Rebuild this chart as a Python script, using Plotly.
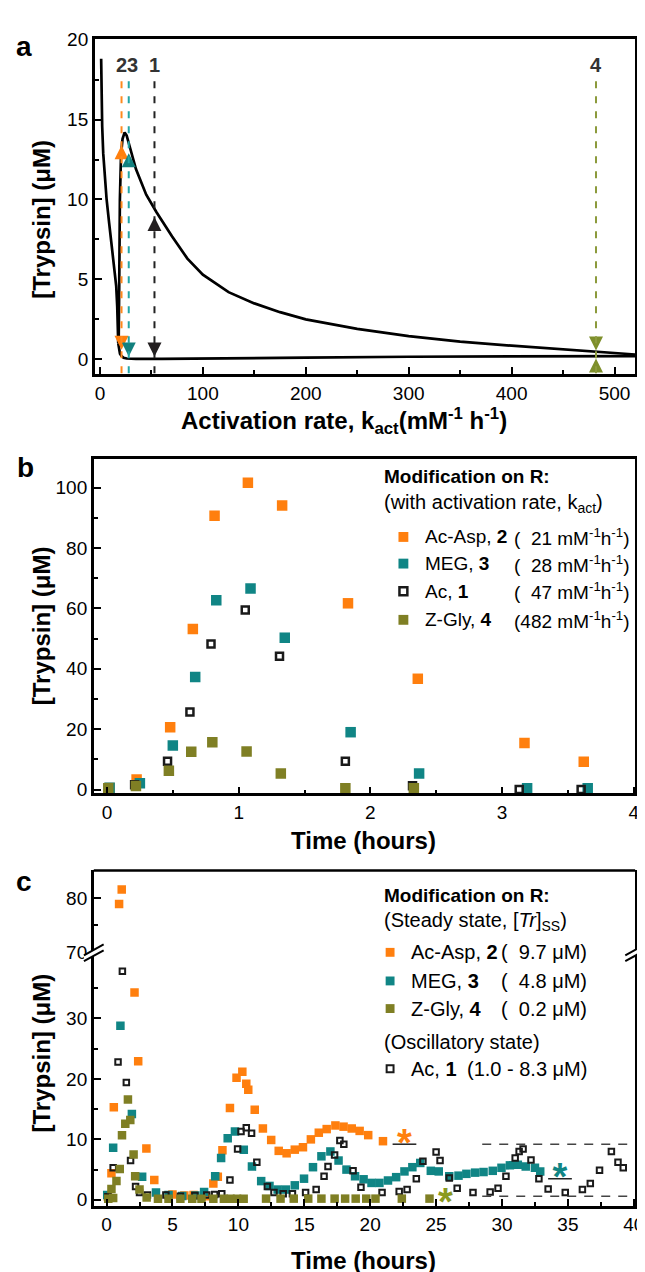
import plotly.graph_objects as go

W, H = 645, 1272
FONT = "Liberation Sans, Arial, sans-serif"

ORANGE = "#ff7f0e"
TEAL = "#108585"
OLIVE = "#7f7f24"
BLACK = "#1a1a1a"

# ---------------- panel a : bifurcation diagram ----------------
curve_k = [1.2, 1.6, 2.2, 3.2, 4.5, 6.5, 9, 11.5, 14, 15.8, 16.8, 17.4, 17.8, 18.3,
           18.8, 19.4, 20.5, 22, 24, 26, 29, 35, 45, 55, 70, 85, 100, 125, 150,
           175, 200, 250, 300, 350, 400, 450, 482, 520]
curve_tr = [18.8, 16.5, 14.6, 12.9, 11.5, 10.0, 8.5, 7.1, 5.7, 4.6, 3.3, 2.0, 1.0, 1.5,
            5.0, 10.0, 12.8, 13.8, 14.2, 14.0, 13.3, 11.9, 10.3, 9.2, 7.7, 6.3, 5.3, 4.2, 3.5,
            2.95, 2.5, 1.9, 1.45, 1.1, 0.85, 0.62, 0.45, 0.3]
base_k = [17.8, 18.5, 19.5, 21, 23, 26, 35, 60, 100, 150, 200, 300, 400, 482, 520]
base_tr = [1.0, 0.6, 0.35, 0.2, 0.1, 0.05, 0.03, 0.03, 0.04, 0.07, 0.1, 0.16, 0.18, 0.19, 0.2]

mark_k = [21, 28, 53, 482]
mark_lbl = ["2", "3", "1", "4"]
mark_shift = [0, 4, 0, 0]
dash_col = ["#ff8a1f", "#22a5a5", "#222222", "#8c9a3c"]
arrow_col = ["#ff7f0e", "#12807e", "#231f20", "#7e8f2b"]
arrow_hi = [13.4, 12.9, 8.9, 0.55]
arrow_lo = [0.6, 0.18, 0.18, 0.05]
arrow_hi_sym = ["arrow-up", "arrow-up", "arrow-up", "arrow-down"]
arrow_lo_sym = ["arrow-down", "arrow-down", "arrow-down", "arrow-up"]
dash_top = 17.4

# ---------------- panel b : batch experiments ----------------
b_org_t = [0.02, 0.225, 0.48, 0.652, 0.817, 1.07, 1.33, 1.83, 2.36, 3.17, 3.62]
b_org_v = [0.5, 3.3, 20.6, 53.2, 90.7, 101.6, 94.1, 61.7, 36.7, 15.4, 9.2]
b_teal_t = [0.02, 0.25, 0.5, 0.67, 0.83, 1.09, 1.35, 1.85, 2.37, 3.19, 3.65]
b_teal_v = [0.6, 2.1, 14.6, 37.3, 62.7, 66.6, 50.3, 19.0, 5.3, 0.4, 0.4]
b_blk_t = [0.21, 0.46, 0.63, 0.79, 1.05, 1.31, 1.81, 2.32, 3.13, 3.6]
b_blk_v = [1.6, 9.4, 25.7, 48.2, 59.5, 44.2, 9.4, 1.3, 0.0, 0.0]
b_olv_t = [0.01, 0.22, 0.47, 0.64, 0.8, 1.06, 1.32, 1.81, 2.33]
b_olv_v = [0.4, 1.2, 6.2, 12.5, 15.7, 12.6, 5.3, 0.4, 0.4]

b_leg_lbl = ["Ac-Asp, <b>2</b>", "MEG, <b>3</b>", "Ac, <b>1</b>", "Z-Gly, <b>4</b>"]
b_leg_val = ["\u00a0\u00a021", "\u00a0\u00a028", "\u00a0\u00a047", "482"]

# ---------------- panel c : flow experiments ----------------
c_org_t = [0.1, 0.37, 0.55, 0.95, 1.15, 2.12, 2.4, 3.02, 3.62, 5.0, 5.9, 6.6, 7.5, 8.1,
           8.44, 8.79, 9.36, 9.86, 10.3, 10.6, 10.75, 11.24, 11.86, 12.49, 13.06, 13.66,
           14.28, 14.9, 15.5, 16.1, 16.7, 17.36, 17.98, 18.6, 19.2, 19.85, 20.97]
c_org_v = [0.5, 4.4, 15.3, 78.9, 81.6, 34.3, 22.9, 8.5, 3.3, 0.9, 0.7, 0.8, 0.6, 2.7,
           3.8, 8.2, 15.2, 20.2, 21.2, 19.2, 18.2, 14.9, 11.8, 9.9, 8.1, 7.7,
           8.3, 8.7, 10.0, 11.1, 11.7, 12.3, 12.1, 11.8, 11.4, 10.7, 9.7]
c_teal_t = [0.05, 0.5, 1.05, 1.92, 2.7, 3.75, 4.7, 5.74, 6.74, 7.4, 8.24, 8.69, 9.19, 9.74,
            10.41, 11.03, 11.73, 12.36, 12.98, 13.6, 14.28, 14.98, 15.66, 16.3, 16.98,
            17.6, 18.2, 18.85, 19.5, 20.1, 20.7, 21.35, 21.97, 22.6, 23.2, 23.8, 24.6,
            25.2, 26.0, 26.7, 27.3, 27.96, 28.6, 29.3, 29.96, 30.6, 31.2, 31.8, 32.5, 32.9]
c_teal_v = [0.8, 8.6, 28.8, 14.2, 3.8, 1.2, 0.8, 0.65, 0.7, 1.3, 3.9, 6.9, 10.2, 11.3,
            8.3, 5.5, 3.1, 2.3, 1.7, 1.7, 2.4, 3.5, 5.4, 7.2, 8.0,
            6.5, 5.0, 3.9, 3.4, 2.8, 2.8, 3.2, 3.75, 4.7, 5.4, 6.1, 4.8,
            4.7, 3.9, 4.0, 4.3, 4.5, 4.6, 4.8, 5.3, 5.7, 5.8, 5.5, 5.3, 4.7]
c_blk_t = [0.1, 0.5, 0.87, 1.2, 1.5, 1.82, 2.2, 2.5, 3.1, 4.5, 5.6, 6.7, 7.6, 8.2, 8.74,
           9.36, 9.94, 10.2, 10.6, 11.0, 11.4, 12.2, 12.7, 13.4, 14.1, 15.1, 15.9, 16.5,
           16.8, 17.3, 17.7, 18.0, 18.7, 19.3, 20.9, 22.2, 22.8, 23.5, 24.0, 25.0, 25.3,
           26.0, 26.6, 27.8, 29.1, 29.7, 30.3, 31.0, 31.3, 31.6, 32.2, 32.8, 33.5, 34.8,
           36.1, 36.7, 37.4, 38.3, 38.8, 39.2]
c_blk_v = [0.5, 5.3, 22.8, 37.8, 19.4, 6.5, 2.2, 1.2, 0.8, 0.8, 0.6, 0.7, 0.8, 0.9, 1.0,
           3.3, 8.4, 11.3, 11.9, 11.0, 6.2, 2.2, 1.2, 1.0, 1.0, 1.2, 1.7, 3.9,
           5.5, 7.4, 9.8, 9.2, 4.8, 2.1, 1.2, 1.4, 1.7, 3.5, 6.4, 7.9, 6.5,
           3.6, 1.9, 1.2, 1.3, 1.9, 3.9, 6.9, 8.0, 8.4, 6.6, 3.5, 1.8, 1.2,
           1.7, 2.7, 4.9, 8.0, 6.2, 5.3]
c_olv_t = [0.13, 0.37, 0.5, 0.75, 1.0, 1.17, 1.42, 1.62, 1.8, 2.05, 2.17, 2.5, 3.04,
           3.9, 4.7, 5.6, 6.5, 7.2, 8.1, 8.9, 9.4, 9.9, 10.4, 12.1, 13.2, 14.2, 15.3,
           16.3, 17.3, 18.1, 18.9, 19.7, 20.4, 22.4, 24.5]
c_olv_v = [0.2, 1.8, 0.3, 3.1, 5.1, 10.7, 12.6, 16.6, 13.2, 7.5, 3.9, 1.7, 0.4,
           0.2, 0.2, 0.2, 0.2, 0.2, 0.2, 0.2, 0.2, 0.2, 0.2, 0.2, 0.2, 0.2, 0.2,
           0.2, 0.2, 0.2, 0.2, 0.2, 0.2, 0.2, 0.2]

# steady state asterisks (time, level of underline, level of asterisk text)
ss_t = [22.6, 34.4, 25.7]
ss_line = [9.2, 3.5, None]
ss_ast = [8.9, 3.2, -0.9]
ss_col = [ORANGE, TEAL, "#8a9a1e"]
osc_bounds = [9.2, 0.6]
osc_start = 28.5

c_leg_lbl = ["Ac-Asp, <b>2</b>", "MEG, <b>3</b>", "Z-Gly, <b>4</b>"]
c_leg_val = ["(\u00a0\u00a09.7 \u03bcM)", "(\u00a0\u00a04.8 \u03bcM)", "(\u00a0\u00a00.2 \u03bcM)"]

BREAK_LO = 40.6   # top of lower y segment
BREAK_HI = 69.6   # bottom of upper y segment


def xp(px):
    return px / W


def yp(py):
    return 1 - py / H


fig = go.Figure()

# --- panel a
fig.add_trace(go.Scatter(x=curve_k, y=curve_tr, mode="lines", line=dict(color="black", width=2.7),
                         xaxis="x", yaxis="y", showlegend=False))
fig.add_trace(go.Scatter(x=base_k, y=base_tr, mode="lines", line=dict(color="black", width=2.7),
                         xaxis="x", yaxis="y", showlegend=False))
for k, c in zip(mark_k, dash_col):
    fig.add_shape(type="line", xref="x", yref="y", x0=k, x1=k, y0=dash_top, y1=-0.93,
                  line=dict(color=c, width=2, dash="7px,8px"))
for i, k in enumerate(mark_k):
    fig.add_trace(go.Scatter(x=[k, k], y=[arrow_hi[i], arrow_lo[i]], mode="markers",
                             marker=dict(symbol=[arrow_hi_sym[i], arrow_lo_sym[i]], size=14,
                                         color=arrow_col[i], line=dict(width=0)),
                             xaxis="x", yaxis="y", showlegend=False))
    fig.add_annotation(x=k, y=18.4, xref="x", yref="y", text="<b>%s</b>" % mark_lbl[i],
                       showarrow=False, xshift=mark_shift[i],
                       font=dict(family=FONT, size=20, color="#333333"))

# --- panel b
sq = dict(symbol="square", size=10.5, line=dict(width=0))
for t, v, col in [(b_org_t, b_org_v, ORANGE), (b_teal_t, b_teal_v, TEAL)]:
    fig.add_trace(go.Scatter(x=t, y=v, mode="markers", marker=dict(color=col, **sq),
                             xaxis="x2", yaxis="y2", showlegend=False))
fig.add_trace(go.Scatter(x=b_blk_t, y=b_blk_v, mode="markers",
                         marker=dict(symbol="square-open", size=7, color=BLACK, line=dict(width=2.5, color=BLACK)),
                         xaxis="x2", yaxis="y2", showlegend=False))
fig.add_trace(go.Scatter(x=b_olv_t, y=b_olv_v, mode="markers", marker=dict(color=OLIVE, **sq),
                         xaxis="x2", yaxis="y2", showlegend=False))

# --- panel c (split into lower / upper segments of the broken axis)
sq_c = dict(symbol="square", size=8.5, line=dict(width=0))


def split(t, v):
    lo = [(a, b) for a, b in zip(t, v) if b <= BREAK_LO]
    hi = [(a, b) for a, b in zip(t, v) if b >= BREAK_HI]
    return lo, hi


for t, v, mk in [(c_org_t, c_org_v, dict(color=ORANGE, **sq_c)),
                 (c_teal_t, c_teal_v, dict(color=TEAL, **sq_c)),
                 (c_blk_t, c_blk_v, dict(symbol="square-open", size=5.5, color=BLACK,
                                         line=dict(width=2, color=BLACK))),
                 (c_olv_t, c_olv_v, dict(color=OLIVE, **sq_c))]:
    lo, hi = split(t, v)
    if lo:
        fig.add_trace(go.Scatter(x=[p[0] for p in lo], y=[p[1] for p in lo], mode="markers",
                                 marker=mk, xaxis="x3", yaxis="y3", showlegend=False))
    if hi:
        fig.add_trace(go.Scatter(x=[p[0] for p in hi], y=[p[1] for p in hi], mode="markers",
                                 marker=mk, xaxis="x3", yaxis="y4", showlegend=False))

for lvl in osc_bounds:
    fig.add_shape(type="line", xref="x3", yref="y3", x0=osc_start, x1=40.1, y0=lvl, y1=lvl,
                  line=dict(color="#444444", width=1.5, dash="9px,8px"))
for t, ln, ya, col in zip(ss_t, ss_line, ss_ast, ss_col):
    if ln is not None:
        fig.add_shape(type="line", xref="x3", yref="y3", x0=t - 0.9, x1=t + 0.9, y0=ln, y1=ln,
                      line=dict(color="#222222", width=1.5))
    fig.add_trace(go.Scatter(x=[t], y=[ya], mode="text", text=["<b>*</b>"],
                             textposition="middle center",
                             textfont=dict(family=FONT, size=38, color=col),
                             xaxis="x3", yaxis="y3", showlegend=False, cliponaxis=False))

# ---------------- axes ----------------
tickfont = dict(family=FONT, size=19, color="black")
minor = dict(ticks="inside", ticklen=4, tickwidth=2, tickcolor="black", showgrid=False)
common = dict(showline=True, linecolor="black", linewidth=2.5, ticks="inside", ticklen=7,
              tickwidth=2, tickcolor="black", showgrid=False, zeroline=False,
              tickfont=tickfont)

fig.update_layout(
    width=W, height=H, margin=dict(l=0, r=0, t=0, b=0),
    paper_bgcolor="white", plot_bgcolor="white",
    xaxis=dict(domain=[xp(88), xp(636)], range=[-5, 520], anchor="y", mirror=True,
               tick0=0, dtick=100, minor=dict(dtick=50, **minor), **common),
    yaxis=dict(domain=[yp(362), yp(22)], range=[-0.93, 20.06], anchor="x", mirror=True,
               tick0=0, dtick=5, minor=dict(dtick=2.5, **minor), **common),
    xaxis2=dict(domain=[xp(87), xp(636)], range=[-0.1, 4.01], anchor="y2", mirror=True,
                tick0=0, dtick=1, minor=dict(dtick=0.5, **minor), **common),
    yaxis2=dict(domain=[yp(787), yp(448)], range=[-1.3, 109.5], anchor="x2", mirror=True,
                tick0=0, dtick=20, minor=dict(dtick=10, **minor), **common),
    xaxis3=dict(domain=[xp(87), xp(636)], range=[-0.97, 40.1], anchor="y3", mirror=False,
                tick0=0, dtick=5, minor=dict(dtick=2.5, **minor), **common),
    yaxis3=dict(domain=[yp(1205), yp(950)], range=[-1, BREAK_LO], anchor="x3", mirror=True,
                tickvals=[0, 10, 20, 30], minor=dict(tickvals=[5, 15, 25, 35], **minor), **common),
    yaxis4=dict(domain=[yp(950), yp(865)], range=[BREAK_HI, 85.1], anchor="x3", mirror=True,
                tickvals=[70, 80], minor=dict(tickvals=[75], **minor), **common),
)

# top border of panel c
fig.add_shape(type="line", xref="paper", yref="paper", x0=xp(87), x1=xp(636), y0=yp(865), y1=yp(865),
              line=dict(color="black", width=2.5))
# axis break marks
for bx in [87, 636]:
    path = "M %f %f L %f %f L %f %f L %f %f Z" % (xp(bx - 10), yp(951), xp(bx + 10), yp(940),
                                                  xp(bx + 10), yp(946), xp(bx - 10), yp(957))
    fig.add_shape(type="path", xref="paper", yref="paper", path=path,
                  fillcolor="white", line=dict(width=0))
    for off in [0, 6]:
        fig.add_shape(type="line", xref="paper", yref="paper",
                      x0=xp(bx - 10), y0=yp(951 + off), x1=xp(bx + 10), y1=yp(940 + off),
                      line=dict(color="black", width=2))


# ---------------- text ----------------
def txt(x, y, s, size=20, bold=False, anchor="center", angle=0):
    fig.add_annotation(x=xp(x), y=yp(y), xref="paper", yref="paper", showarrow=False,
                       text="<b>%s</b>" % s if bold else s, xanchor=anchor, yanchor="middle",
                       textangle=angle, font=dict(family=FONT, size=size, color="black"))


txt(16, 30, "a", 28, True)
txt(18, 457, "b", 28, True)
txt(16, 876, "c", 28, True)

ytitle = "[Trypsin] (\u03bcM)"
txt(34, 205, ytitle, 24, True, angle=-90)
txt(34, 617, ytitle, 24, True, angle=-90)
txt(34, 1050, ytitle, 24, True, angle=-90)
txt(341, 409, "Activation rate, k<sub>act</sub>(mM<sup>-1</sup> h<sup>-1</sup>)", 24, True)
txt(361, 835, "Time (hours)", 24, True)
txt(361, 1260, "Time (hours)", 24, True)

# legend b
txt(379, 466, "Modification on R:", 19, True, "left")
txt(379, 493, "(with activation rate, k<sub>act</sub>)", 20, False, "left")
b_rows = [527, 554, 582, 611]
b_cols = [ORANGE, TEAL, None, OLIVE]
for row, lbl, val, col in zip(b_rows, b_leg_lbl, b_leg_val, b_cols):
    if col:
        fig.add_shape(type="rect", xref="paper", yref="paper", x0=xp(396), x1=xp(406),
                      y0=yp(row + 5), y1=yp(row - 5), fillcolor=col, line=dict(width=0))
    else:
        fig.add_shape(type="rect", xref="paper", yref="paper", x0=xp(397), x1=xp(405),
                      y0=yp(row + 4), y1=yp(row - 4), line=dict(color=BLACK, width=2.5))
    txt(421, row, lbl, 19, False, "left")
    txt(633, row, "(" + val + " mM<sup>-1</sup>h<sup>-1</sup>)", 19, False, "right")

# legend c
txt(379, 890, "Modification on R:", 19, True, "left")
txt(379, 917, "(Steady state, [<i>Tr</i>]<sub>SS</sub>)", 20, False, "left")
c_rows = [948, 977, 1005]
for row, lbl, val, col in zip(c_rows, c_leg_lbl, c_leg_val, [ORANGE, TEAL, OLIVE]):
    fig.add_shape(type="rect", xref="paper", yref="paper", x0=xp(383), x1=xp(392),
                  y0=yp(row + 4.5), y1=yp(row - 4.5), fillcolor=col, line=dict(width=0))
    txt(407, row, lbl, 20, False, "left")
    txt(589, row, val, 20, False, "right")
txt(379, 1039, "(Oscillatory state)", 20, False, "left")
fig.add_shape(type="rect", xref="paper", yref="paper", x0=xp(384), x1=xp(391),
              y0=yp(1066 + 3.5), y1=yp(1066 - 3.5), line=dict(color=BLACK, width=2))
txt(407, 1066, "Ac, <b>1</b>", 20, False, "left")
txt(589, 1066, "(1.0 - 8.3 \u03bcM)", 20, False, "right")

fig.write_html("out.html")
